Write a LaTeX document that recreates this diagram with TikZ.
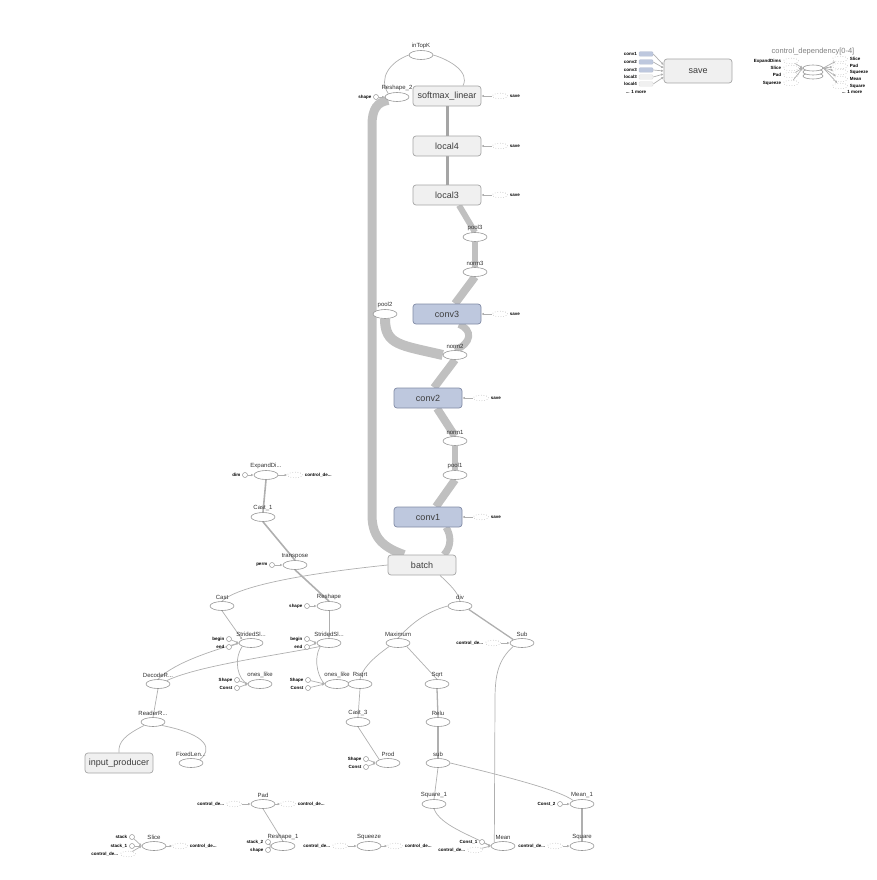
\documentclass[tikz,border=0pt]{standalone}
\usepackage{fontspec}
\setmainfont{Liberation Sans}
\usetikzlibrary{arrows.meta,shapes.geometric}
\definecolor{boxfill}{RGB}{240,240,240}
\definecolor{boxline}{RGB}{165,165,165}
\definecolor{boxtext}{RGB}{60,60,60}
\definecolor{convfill}{RGB}{190,200,222}
\definecolor{convline}{RGB}{128,138,165}
\definecolor{opline}{RGB}{150,150,150}
\definecolor{optext}{RGB}{50,50,50}
\definecolor{ghostline}{RGB}{185,185,185}
\definecolor{edgec}{RGB}{175,175,175}
\definecolor{bandc}{RGB}{192,192,192}
\definecolor{wirec}{RGB}{165,165,165}
\pgfdeclarelayer{bg}
\pgfsetlayers{bg,main}

\begin{document}
\begin{tikzpicture}[x=1pt,y=-1pt,label distance=1pt,
  op/.style={shape=ellipse,draw=opline,fill=white,line width=0.6pt,minimum width=24pt,minimum height=9pt,inner sep=0pt},
  meta/.style={shape=rectangle,rounded corners=3pt,draw=boxline,fill=boxfill,line width=0.7pt,minimum width=68pt,minimum height=20pt,text=boxtext,font=\fontsize{9}{9}\selectfont},
  convbox/.style={meta,draw=convline,fill=convfill},
  const/.style={shape=circle,draw=opline,fill=white,line width=0.5pt,minimum size=5pt,inner sep=0pt},
  ghost/.style={shape=ellipse,draw=ghostline,dotted,line width=0.6pt,minimum width=15pt,minimum height=5.5pt,inner sep=0pt},
  lbl/.style={font=\fontsize{6}{6}\selectfont,text=optext,inner sep=0.6pt},
  tag/.style={font=\fontsize{4.5}{4.5}\selectfont\bfseries,inner sep=0.8pt},
  line/.style={draw=edgec,line width=0.7pt},
  flow/.style={line,-{Latex[length=2.5pt,width=2.5pt]}},
  band/.style={draw=bandc,line width=#1},
  band/.default=7pt]
\useasboundingbox (0,0) rectangle (876,880);

% main chain
\node[meta] (softmax) at (447,96) {softmax\_linear};
\node[meta] (localB) at (447,146) {local4};
\node[meta] (localA) at (447,195) {local3};
\node[convbox] (convC) at (447,314) {conv3};
\node[convbox] (convB) at (428,398) {conv2};
\node[convbox] (convA) at (428,517) {conv1};
\node[meta] (batch) at (422,565) {batch};

\node[op,label={[lbl]above:inTopK}] (intopk) at (421,55) {};
\node[op,label={[lbl]above:Reshape\_2}] (reshapeC) at (397,97) {};
\node[const,label={[tag]left:shape}] (shapeC) at (376,97) {};
\node[op,label={[lbl]above:pool3}] (poolC) at (475,237) {};
\node[op,label={[lbl]above:norm3}] (normC) at (475,272) {};
\node[op,label={[lbl]above:pool2}] (poolB) at (385,314) {};
\node[op,label={[lbl]above:norm2}] (normB) at (455,355) {};
\node[op,label={[lbl]above:norm1}] (normA) at (455,441) {};
\node[op,label={[lbl]above:pool1}] (poolA) at (455,475) {};

\foreach \n/\x/\y in {softmax/500/96,localB/500/146,localA/500/195,convC/500/314,convB/481/398,convA/481/517}
  \node[ghost,label={[tag]right:save}] (save-\n) at (\x,\y) {};

% input side
\node[op,label={[lbl]above:ExpandDi...}] (expand) at (266,475) {};
\node[const,label={[tag]left:dim}] (dimE) at (245,475) {};
\node[ghost,label={[tag]right:control\_de...}] (g-expand) at (295,475) {};
\node[op,label={[lbl]above:Cast\_1}] (castA) at (263,517) {};
\node[op,label={[lbl]above:transpose}] (transpose) at (295,565) {};
\node[const,label={[tag]left:perm}] (permT) at (272,565) {};
\node[op,label={[lbl]above:Reshape}] (reshape) at (329,606) {};
\node[const,label={[tag]left:shape}] (shapeR) at (307,606) {};
\node[op,label={[lbl]above:Cast}] (cast) at (222,606) {};
\node[op,label={[lbl]above:StridedSl...}] (stridedA) at (251,643) {};
\node[const,label={[tag]left:begin}] (beginA) at (229,639) {};
\node[const,label={[tag]left:end}] (endA) at (229,647) {};
\node[op,label={[lbl]above:StridedSl...}] (stridedB) at (329,643) {};
\node[const,label={[tag]left:begin}] (beginB) at (307,639) {};
\node[const,label={[tag]left:end}] (endB) at (307,647) {};
\node[op,label={[lbl]above:ones\_like}] (onesA) at (260,684) {};
\node[const,label={[tag]left:Shape}] (shpOA) at (237,680) {};
\node[const,label={[tag]left:Const}] (cstOA) at (237,688) {};
\node[op,label={[lbl]above:ones\_like}] (onesB) at (337,684) {};
\node[const,label={[tag]left:Shape}] (shpOB) at (308,680) {};
\node[const,label={[tag]left:Const}] (cstOB) at (308,688) {};
\node[op,label={[lbl]above:DecodeR...}] (decode) at (158,684) {};
\node[op,label={[lbl]above:ReaderR...}] (reader) at (153,722) {};
\node[meta] (inputproducer) at (119,763) {input\_producer};
\node[op,label={[lbl]above:FixedLen...}] (fixedlen) at (191,763) {};

% normalisation part
\node[op,label={[lbl]above:div}] (div) at (460,606) {};
\node[op,label={[lbl]above:Sub}] (subU) at (522,643) {};
\node[ghost,label={[tag]left:control\_de...}] (g-subU) at (493,643) {};
\node[op,label={[lbl]above:Maximum}] (maximum) at (398,643) {};
\node[op,label={[lbl]above:Rsqrt}] (rsqrt) at (360,684) {};
\node[op,label={[lbl]above:Sqrt}] (sqrt) at (437,684) {};
\node[op,label={[lbl]above:Cast\_3}] (castC) at (358,722) {};
\node[op,label={[lbl]above:Relu}] (relu) at (438,722) {};
\node[op,label={[lbl]above:Prod}] (prod) at (388,763) {};
\node[const,label={[tag]left:Shape}] (shpP) at (366,759) {};
\node[const,label={[tag]left:Const}] (cstP) at (366,767) {};
\node[op,label={[lbl]above:sub}] (subL) at (438,763) {};
\node[op,label={[lbl]above:Square\_1}] (squareA) at (434,804) {};
\node[op,label={[lbl]above:Mean\_1}] (meanA) at (582,804) {};
\node[const,label={[tag]left:Const\_2}] (constB) at (560,804) {};
\node[op,label={[lbl]above:Mean}] (mean) at (503,846) {};
\node[const,label={[tag]left:Const\_1}] (constA) at (482,842) {};
\node[ghost,label={[tag]left:control\_de...}] (g-mean) at (475,850) {};
\node[op,label={[lbl]above:Square}] (square) at (582,846) {};
\node[ghost,label={[tag]left:control\_de...}] (g-square) at (555,846) {};
\node[op,label={[lbl]above:Squeeze}] (squeeze) at (369,846) {};
\node[ghost,label={[tag]left:control\_de...}] (g-squeezeL) at (340,846) {};
\node[ghost,label={[tag]right:control\_de...}] (g-squeezeR) at (395,846) {};

% bottom row
\node[op,label={[lbl]above:Pad}] (pad) at (263,804) {};
\node[ghost,label={[tag]left:control\_de...}] (g-padL) at (234,804) {};
\node[ghost,label={[tag]right:control\_de...}] (g-padR) at (288,804) {};
\node[op,label={[lbl]above:Reshape\_1}] (reshapeA) at (283,846) {};
\node[const,label={[tag]left:stack\_2}] (stackB) at (268,842) {};
\node[const,label={[tag]left:shape}] (shapeRA) at (268,850) {};
\node[op,label={[lbl]above:Slice}] (slice) at (154,846) {};
\node[const,label={[tag]left:stack}] (stackS) at (132,837) {};
\node[const,label={[tag]left:stack\_1}] (stackSA) at (132,846) {};
\node[ghost,label={[tag]left:control\_de...}] (g-sliceL) at (128,854) {};
\node[ghost,label={[tag]right:control\_de...}] (g-sliceR) at (180,846) {};

% save and control_dependency
\node[meta,minimum height=24pt] (save) at (698,71) {save};
\foreach \n/\y/\c in {conv1/54/convfill,conv2/62/convfill,conv3/70/convfill,local3/77/boxfill,local4/84/boxfill}
  \node[shape=rectangle,rounded corners=1pt,fill=\c,draw=\c!85!gray,line width=0.4pt,minimum width=14pt,minimum height=4.5pt,inner sep=0pt,label={[tag]left:\n}] (in-\n) at (646,\y) {};
\node[tag] (more-save) at (636,92) {... 1 more};

\draw[opline,fill=white,line width=0.6pt] (813,76) ellipse [x radius=10pt,y radius=3pt];
\draw[opline,fill=white,line width=0.6pt] (813,72) ellipse [x radius=10pt,y radius=3pt];
\node[op,minimum width=20pt,minimum height=6pt,label={[lbl,label distance=9pt,font=\fontsize{7.5}{7.5}\selectfont,text=gray]above:control\_dependency[0-4]}] (ctrl) at (813,68) {};
\foreach \t/\y in {ExpandDims/61,Slice/68,Pad/75,Squeeze/83}
  \node[ghost,label={[tag]left:\t}] (ci-\t) at (791,\y) {};
\foreach \t/\y in {Slice/59,Pad/66,Squeeze/72,Mean/79,Square/86}
  \node[ghost,label={[tag]right:\t}] (co-\t) at (840,\y) {};
\node[tag] (more-ctrl) at (852,92) {... 1 more};

\begin{pgfonlayer}{bg}
% thick tensors
\draw[band=9pt] ([xshift=-18pt]batch.north) .. controls (386,548) and (372,540) .. (372,515) -- (372,125) .. controls (372,108) and (378,102) .. (reshapeC.south west);
\draw[band] ([xshift=22pt]batch.north) .. controls (452,546) and (451,535) .. ([xshift=18pt]convA.south);
\draw[band=8pt] ([xshift=8pt]convA.north) -- (poolA.south);
\draw[band=6pt] (poolA.north) -- (normA.south);
\draw[band=8pt] ([xshift=9pt]convB.south) -- (normA.north);
\draw[band=8pt] ([xshift=6pt]convB.north) -- (normB.south);
\draw[band=10pt] (poolB.south) .. controls (385,345) and (400,345) .. (normB.west);
\draw[band] (normB.north) .. controls (472,343) and (473,330) .. ([xshift=12pt]convC.south);
\draw[band=8pt] ([xshift=8pt]convC.north) -- (normC.south);
\draw[band=6pt] (normC.north) -- (poolC.south);
\draw[band=6pt] (poolC.north) -- ([xshift=12pt]localA.south);
\draw[band=3pt,draw=wirec] (localA.north) -- (localB.south);
\draw[band=3pt,draw=wirec] (localB.north) -- (softmax.south);

% thin edges
\draw[line] (reshapeC.north west) .. controls (378,78) and (390,62) .. (intopk.west);
\draw[line] ([xshift=16pt]softmax.north) .. controls (470,72) and (450,60) .. (intopk.east);
\draw[flow] (shapeC) -- (reshapeC.west);
\foreach \n in {softmax,localB,localA,convC,convB,convA}
  \draw[flow] (save-\n) -- (\n.east);

\draw[flow] (dimE) -- (expand.west);
\draw[flow] (expand.east) -- (g-expand);
\draw[line,line width=1.6pt] (expand.south) -- (castA.north);
\draw[line,line width=1.6pt] (castA.south) -- (transpose.north);
\draw[flow] (permT) -- (transpose.west);
\draw[line,line width=1.6pt] (transpose.south) -- (reshape.north);
\draw[flow] (shapeR) -- (reshape.west);
\draw[line] (batch.west) .. controls (320,572) and (240,584) .. (cast.north);
\draw[flow] (cast.south) -- (stridedA.north west);
\draw[flow] (beginA) -- (stridedA.west);
\draw[flow] (endA) -- (stridedA.west);
\draw[line] (stridedA.south west) .. controls (233,660) and (238,680) .. (onesA.west);
\draw[flow] (shpOA) -- (onesA.west);
\draw[flow] (cstOA) -- (onesA.west);
\draw[flow] (reshape.south) -- (stridedB.north);
\draw[flow] (beginB) -- (stridedB.west);
\draw[flow] (endB) -- (stridedB.west);
\draw[line] (stridedB.south west) .. controls (312,662) and (320,680) .. (onesB.west);
\draw[flow] (shpOB) -- (onesB.west);
\draw[flow] (cstOB) -- (onesB.west);
\draw[line] (decode.north) .. controls (175,662) and (215,650) .. (stridedA.west);
\draw[line] (decode.north east) .. controls (200,665) and (280,655) .. (stridedB.south west);
\draw[line] (reader.north) -- (decode.south);
\draw[line] (reader.south west) .. controls (125,735) and (118,742) .. (inputproducer.north);
\draw[line] (reader.south east) .. controls (210,735) and (212,750) .. (fixedlen.north east);

\draw[line] ([xshift=18pt]batch.south) .. controls (450,585) and (458,592) .. (div.north);
\draw[line] (div.west) .. controls (425,612) and (410,625) .. (maximum.north);
\draw[line,line width=1.3pt] (div.south east) -- (subU.north west);
\draw[flow] (g-subU) -- (subU.west);
\draw[line] (maximum.south west) .. controls (370,660) and (362,670) .. (rsqrt.north);
\draw[line] (maximum.south east) -- (sqrt.north);
\draw[line] (rsqrt.south) -- (castC.north);
\draw[line] (castC.south) -- (prod.north west);
\draw[flow] (shpP) -- (prod.west);
\draw[flow] (cstP) -- (prod.west);
\draw[line,line width=1.3pt] (sqrt.south) -- (relu.north);
\draw[line,line width=1.3pt] (relu.south) -- (subL.north);
\draw[line] (subU.south west) .. controls (498,660) and (495,675) .. (495,700) -- (mean.north west);
\draw[line] (subL.south) -- (squareA.north);
\draw[line] (subL.east) .. controls (500,775) and (560,790) .. (meanA.north west);
\draw[line] (squareA.south) .. controls (440,825) and (470,835) .. (mean.west);
\draw[flow] (constB) -- (meanA.west);
\draw[line,line width=1.3pt] (meanA.south) -- (square.north);
\draw[flow] (constA) -- (mean.west);
\draw[flow] (g-mean) -- (mean.west);
\draw[flow] (g-square) -- (square.west);
\draw[flow] (g-squeezeL) -- (squeeze.west);
\draw[flow] (squeeze.east) -- (g-squeezeR);

\draw[flow] (g-padL) -- (pad.west);
\draw[flow] (pad.east) -- (g-padR);
\draw[line] (pad.south) -- (reshapeA.north);
\draw[flow] (stackB) -- (reshapeA.west);
\draw[flow] (shapeRA) -- (reshapeA.west);
\draw[flow] (stackS) -- (slice.west);
\draw[flow] (stackSA) -- (slice.west);
\draw[flow] (g-sliceL) -- (slice.west);
\draw[flow] (slice.east) -- (g-sliceR);

\foreach \n/\s in {conv1/6,conv2/3,conv3/0,local3/-3,local4/-6}
  \draw[flow] (in-\n.east) -- ([yshift=\s pt]save.west);
\foreach \t in {ExpandDims,Slice,Pad,Squeeze}
  \draw[flow] (ci-\t) -- (ctrl.west);
\foreach \t in {Slice,Pad,Squeeze,Mean,Square}
  \draw[flow] (ctrl.east) -- (co-\t);
\end{pgfonlayer}
\end{tikzpicture}
\end{document}
